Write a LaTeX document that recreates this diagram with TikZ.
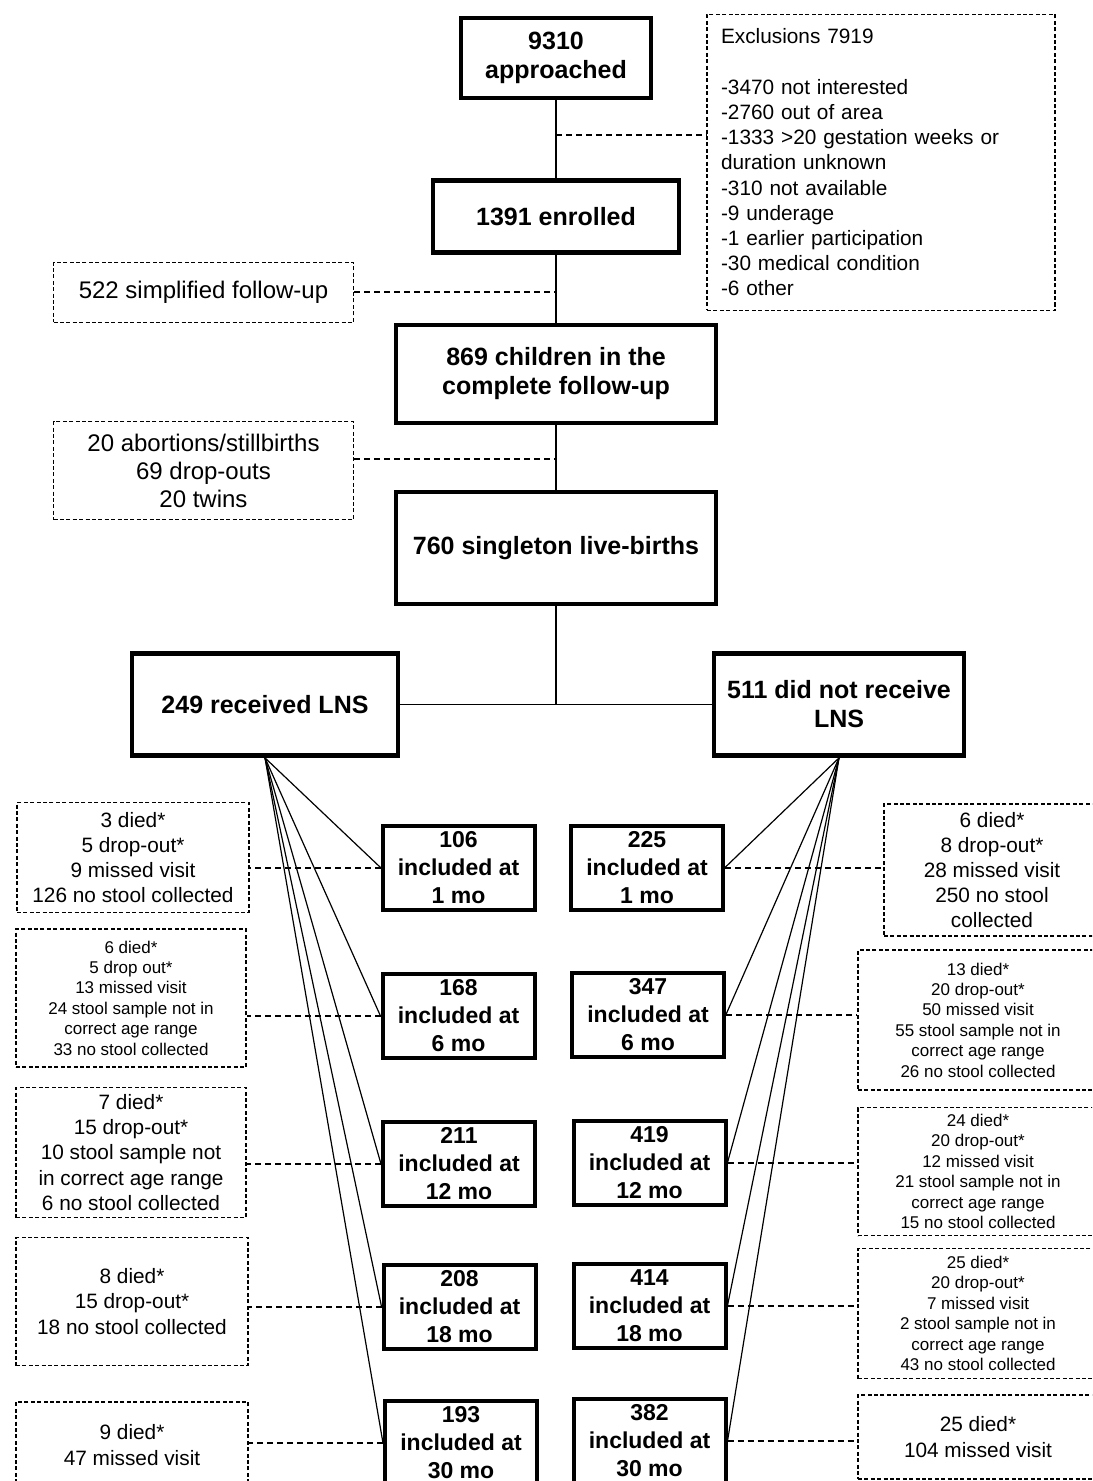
\documentclass[tikz,border=0pt]{standalone}
\usepackage{fontspec}
\setmainfont{Liberation Sans}
\usetikzlibrary{arrows.meta,positioning,calc}
\tikzset{
  mainbox/.style={draw,line width=2.4pt,align=center,font=\bfseries\fontsize{12.5}{14.5}\selectfont,inner sep=2pt},
  incbox/.style={draw,line width=2pt,align=center,font=\bfseries\fontsize{11.5}{14}\selectfont,minimum width=76pt,minimum height=42pt,inner sep=1pt},
  note/.style={draw,dash pattern=on 2pt off 1.2pt,line width=0.6pt,align=center,font=\fontsize{10.4}{12.6}\selectfont,inner sep=2pt},
  smallnote/.style={note,font=\fontsize{8.5}{10.2}\selectfont},
  bignote/.style={note,font=\fontsize{12}{14}\selectfont},
  spine/.style={line width=1pt},
  fan/.style={line width=0.6pt},
  link/.style={line width=1pt,dash pattern=on 3pt off 2pt}
}

\begin{document}
\begin{tikzpicture}[x=0.5pt,y=-0.5pt]
\useasboundingbox(0,0)rectangle(1092,1481);
\clip(0,0)rectangle(1092,1481);
% flow down the middle
\node[mainbox,minimum width=95pt,minimum height=40pt](appr)at(556,58){9310\\approached};
\node[mainbox,minimum width=123pt,minimum height=36pt](enr)at(556,216.5){1391 enrolled};
\node[mainbox,minimum width=160pt,minimum height=49pt](comp)at(556,374){869 children in the\\complete follow-up};
\node[mainbox,minimum width=160pt,minimum height=56pt](live)at(556,548){760 singleton live-births};
\node[mainbox,minimum width=133pt,minimum height=51pt](lns)at(265,704.5){249 received LNS};
\node[mainbox,minimum width=125pt,minimum height=51pt](nolns)at(839,704.5){511 did not receive\\LNS};
% side notes
\node[note,align=left,text width=160pt,minimum width=174pt,minimum height=148pt](excl)at(881,162.5){Exclusions 7919\\[12.6pt]-3470 not interested\\-2760 out of area\\-1333 >20 gestation weeks or\\duration unknown\\-310 not available\\-9 underage\\-1 earlier participation\\-30 medical condition\\-6 other};
\node[bignote,minimum width=150pt,minimum height=30pt](simp)at(203.5,292.5){522 simplified follow-up};
\node[bignote,minimum width=150pt,minimum height=49pt](abort)at(203.5,470.5){20 abortions/stillbirths\\69 drop-outs\\20 twins};
\coordinate(ex)at(556,135);
\coordinate(ab)at(556,459);
\coordinate(split)at(live.south|-lns.east);
\draw[spine](appr)--(enr);\draw[spine](enr)--(comp);\draw[spine](comp)--(live);
\draw[link](ex)--(ex-|excl.west);
\draw[link](simp.east)--(simp.east-|enr.south);
\draw[link](ab-|abort.east)--(ab);
\draw[fan](live)--(split);\draw[fan](lns)--(nolns);
% included at each visit
\node[incbox](l1)at(458.5,867.5){106\\included at\\1 mo};
\node[incbox](l6)at(458.5,1016){168\\included at\\6 mo};
\node[incbox](l12)at(459,1164){211\\included at\\12 mo};
\node[incbox](l18)at(459.5,1306.5){208\\included at\\18 mo};
\node[incbox](l30)at(461,1443){193\\included at\\30 mo};
\node[incbox](r1)at(647,867.5){225\\included at\\1 mo};
\node[incbox](r6)at(648,1014.5){347\\included at\\6 mo};
\node[incbox](r12)at(649.5,1162.5){419\\included at\\12 mo};
\node[incbox](r18)at(649.5,1305.5){414\\included at\\18 mo};
\node[incbox](r30)at(649.5,1441){382\\included at\\30 mo};
% losses per visit
\node[note,minimum width=116pt,minimum height=55pt](n1)at(133,857.5){3 died*\\5 drop-out*\\9 missed visit\\126 no stool collected};
\node[smallnote,minimum width=115pt,minimum height=69pt](n6)at(131,998){6 died*\\5 drop out*\\13 missed visit\\24 stool sample not in\\correct age range\\33 no stool collected};
\node[note,minimum width=115pt,minimum height=65pt](n12)at(131,1152.5){7 died*\\15 drop-out*\\10 stool sample not\\in correct age range\\6 no stool collected};
\node[note,minimum width=116pt,minimum height=64pt](n18)at(132,1301.5){8 died*\\15 drop-out*\\18 no stool collected};
\node[note,minimum width=116pt,minimum height=43pt](n30)at(132,1445){9 died*\\47 missed visit};
\node[note,minimum width=108pt,minimum height=66pt](m1)at(992,870){6 died*\\8 drop-out*\\28 missed visit\\250 no stool\\collected};
\node[smallnote,minimum width=120pt,minimum height=70pt](m6)at(978,1020){13 died*\\20 drop-out*\\50 missed visit\\55 stool sample not in\\correct age range\\26 no stool collected};
\node[smallnote,minimum width=120pt,minimum height=64pt](m12)at(978,1171.5){24 died*\\20 drop-out*\\12 missed visit\\21 stool sample not in\\correct age range\\15 no stool collected};
\node[smallnote,minimum width=120pt,minimum height=65pt](m18)at(978,1313.5){25 died*\\20 drop-out*\\7 missed visit\\2 stool sample not in\\correct age range\\43 no stool collected};
\node[note,minimum width=120pt,minimum height=42pt](m30)at(978,1437){25 died*\\104 missed visit};
\foreach \b in {l1,l6,l12,l18,l30}{\draw[fan](lns.south)--(\b.west);}
\foreach \b in {r1,r6,r12,r18,r30}{\draw[fan](nolns.south)--(\b.east);}
\foreach \n/\b in {n1/l1,n6/l6,n12/l12,n18/l18,n30/l30}{\draw[link](\b.west)--(\b.west-|\n.east);}
\foreach \m/\b in {m1/r1,m6/r6,m12/r12,m18/r18,m30/r30}{\draw[link](\b.east)--(\b.east-|\m.west);}
\end{tikzpicture}
\end{document}
